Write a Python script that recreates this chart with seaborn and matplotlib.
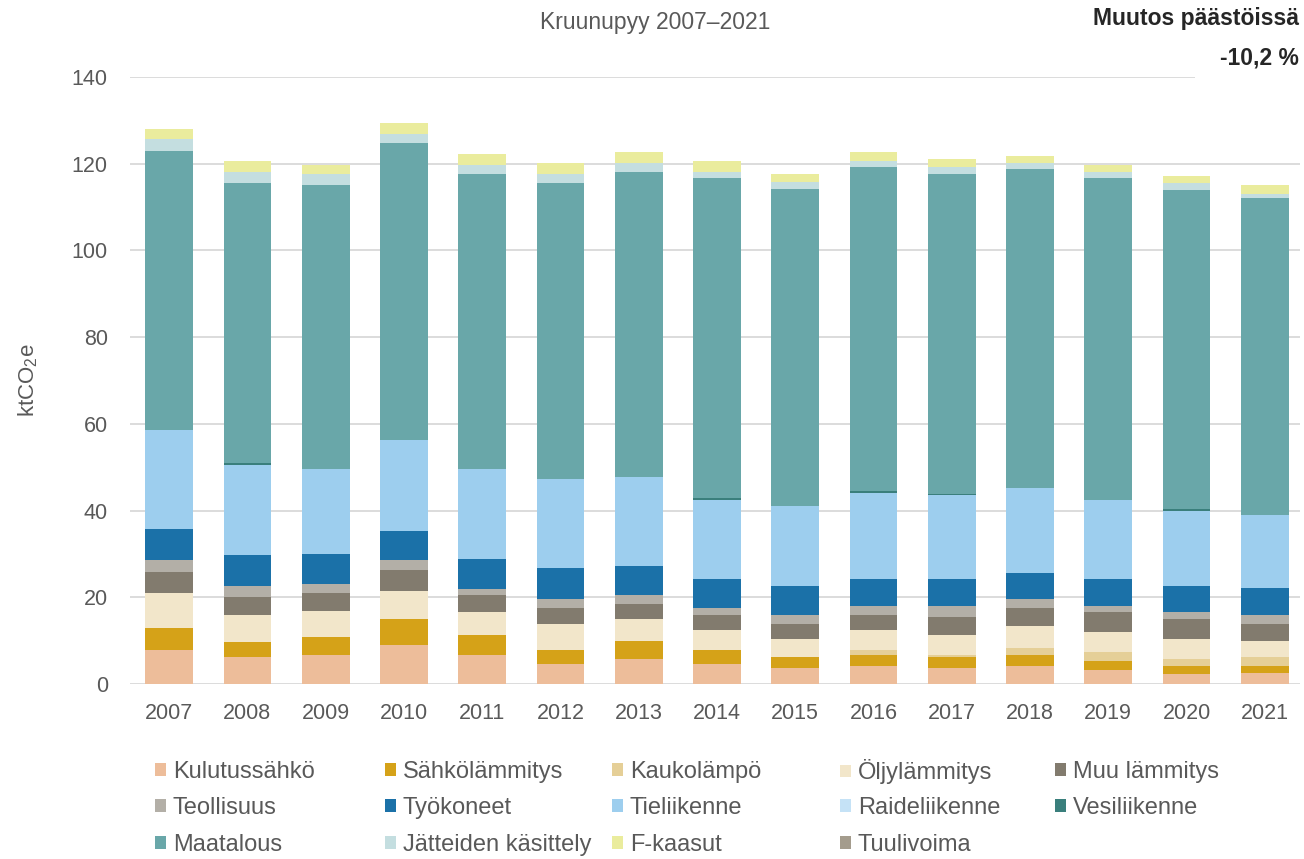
import pandas as pd
import matplotlib
matplotlib.use('Agg')
import matplotlib.pyplot as plt
from matplotlib.patches import Patch, Rectangle
import seaborn as sns

# Vuodet ja päästöt sektoreittain (ktCO2e), luettu kuvasta
years = ['2007', '2008', '2009', '2010', '2011', '2012', '2013', '2014',
         '2015', '2016', '2017', '2018', '2019', '2020', '2021']

kulutussahko = [7.8, 6.2, 6.8, 8.9, 6.8, 4.7, 5.8, 4.7, 3.8, 4.2, 3.7, 4.2, 3.2, 2.2, 2.6]
sahkolammitys = [5.1, 3.6, 4.0, 6.1, 4.6, 3.1, 4.1, 3.1, 2.5, 2.6, 2.5, 2.6, 2.0, 2.0, 1.6]
kaukolampo = [0, 0, 0, 0, 0, 0, 0, 0, 0, 1.0, 0.6, 1.5, 2.1, 1.6, 2.1]
oljylammitys = [8.2, 6.1, 6.1, 6.5, 5.1, 6.0, 5.0, 4.6, 4.1, 4.6, 4.6, 5.1, 4.6, 4.6, 3.6]
muu_lammitys = [4.7, 4.2, 4.2, 4.7, 4.1, 3.7, 3.6, 3.6, 3.5, 3.6, 4.1, 4.1, 4.6, 4.5, 4.0]
teollisuus = [2.9, 2.4, 2.0, 2.5, 1.4, 2.0, 2.0, 1.5, 2.1, 2.0, 2.5, 2.0, 1.5, 1.6, 2.1]
tyokoneet = [7.1, 7.3, 6.8, 6.7, 6.8, 7.2, 6.8, 6.7, 6.6, 6.2, 6.2, 6.2, 6.2, 6.1, 6.1]
tieliikenne = [22.7, 20.8, 19.8, 20.9, 20.9, 20.5, 20.4, 18.3, 18.4, 19.8, 19.3, 19.4, 18.3, 17.4, 16.9]
raideliikenne = [0] * 15
vesiliikenne = [0, 0.4, 0, 0, 0, 0, 0, 0.4, 0, 0.4, 0.4, 0, 0, 0.4, 0]
maatalous = [64.4, 64.6, 65.3, 68.5, 67.9, 68.4, 70.3, 73.7, 73.1, 74.8, 73.7, 73.6, 74.1, 73.6, 73.0]
jatteet = [2.9, 2.5, 2.6, 2.0, 2.1, 2.1, 2.1, 1.5, 1.6, 1.4, 1.6, 1.5, 1.5, 1.6, 1.0]
f_kaasut = [2.1, 2.6, 2.2, 2.6, 2.6, 2.4, 2.6, 2.6, 1.9, 2.1, 2.0, 1.5, 1.6, 1.5, 2.1]
tuulivoima = [0] * 15

sektorit = ['Kulutussähkö', 'Sähkölämmitys', 'Kaukolämpö', 'Öljylämmitys', 'Muu lämmitys',
            'Teollisuus', 'Työkoneet', 'Tieliikenne', 'Raideliikenne', 'Vesiliikenne',
            'Maatalous', 'Jätteiden käsittely', 'F-kaasut', 'Tuulivoima']
arvot = [kulutussahko, sahkolammitys, kaukolampo, oljylammitys, muu_lammitys,
         teollisuus, tyokoneet, tieliikenne, raideliikenne, vesiliikenne,
         maatalous, jatteet, f_kaasut, tuulivoima]
varit = ['#EDBD9A', '#D5A218', '#E5CF97', '#F2E6CA', '#827B6E',
         '#B3AFA7', '#1B71A8', '#9DCEEE', '#C5E2F6', '#3A7F7C',
         '#69A7A9', '#C4DEE0', '#EAEC9D', '#A49C8D']

df = pd.DataFrame(dict(zip(sektorit, arvot)))
df['vuosi'] = years
kumul = df[sektorit].cumsum(axis=1)

sns.set_theme(style='white')
plt.rcParams['font.family'] = ['Liberation Sans', 'DejaVu Sans']
plt.rcParams['mathtext.default'] = 'regular'

harmaa = '#595959'
fig = plt.figure(figsize=(13.04, 8.59), dpi=100)
ax = fig.add_axes([130 / 1304, 1 - 684 / 859, 1170 / 1304, 607 / 859])

# pinotut pylväät: piirretään kumulatiiviset summat ylhäältä alas
for nimi, vari in reversed(list(zip(sektorit, varit))):
    sns.barplot(x=df['vuosi'], y=kumul[nimi], color=vari, saturation=1,
                width=0.61, order=years, errorbar=None, linewidth=0, ax=ax, zorder=2)

ax.set_xlim(-0.5, 14.45)
ax.set_ylim(0, 140)
ax.set_yticks(range(0, 141, 20))
ax.yaxis.grid(True, color='#d9d9d9', linewidth=1.3, zorder=0)
ax.set_axisbelow(True)
for s in ax.spines.values():
    s.set_visible(False)
ax.tick_params(axis='both', length=0, labelsize=15.5, colors=harmaa)
ax.tick_params(axis='y', pad=16)
ax.tick_params(axis='x', pad=14)
ax.set_xlabel('')
ax.set_ylabel('ktCO$_2$e', fontsize=16, color=harmaa, va='center')
ax.yaxis.set_label_coords(-0.087, 0.5)

fig.text(655 / 1304, 1 - 22 / 859, 'Kruunupyy 2007–2021', ha='center', va='center',
         fontsize=16.5, color=harmaa)

# valkoinen tausta muutosluvun alle
fig.patches.append(Rectangle((1195 / 1304, 1 - 90 / 859), 1 - 1195 / 1304, 60 / 859,
                             transform=fig.transFigure, facecolor='white',
                             edgecolor='none', zorder=1.5))
fig.text(1299 / 1304, 1 - 18 / 859, 'Muutos päästöissä', ha='right', va='center',
         fontsize=16.5, fontweight='bold', color='#262626')
fig.text(1299 / 1304, 1 - 58 / 859, '-10,2 %', ha='right', va='center',
         fontsize=16.5, fontweight='bold', color='#262626')

# selite: viisi saraketta, kolme riviä, jokainen merkintä omaan kohtaansa
sarake_x = [155, 385, 612, 840, 1055]
rivi_y = [772, 808, 845]
kahvat = [Patch(facecolor=v, edgecolor='none', label=n) for n, v in zip(sektorit, varit)]
for k, kahva in enumerate(kahvat):
    x = sarake_x[k % 5]
    y = rivi_y[k // 5]
    fig.legend(handles=[kahva], loc='center left',
               bbox_to_anchor=(x / 1304, 1 - y / 859), bbox_transform=fig.transFigure,
               frameon=False, fontsize=17, handlelength=0.45, handleheight=0.45,
               handletextpad=0.3, borderpad=0, borderaxespad=0,
               labelcolor=harmaa)

fig.savefig('out.png', dpi=100)
